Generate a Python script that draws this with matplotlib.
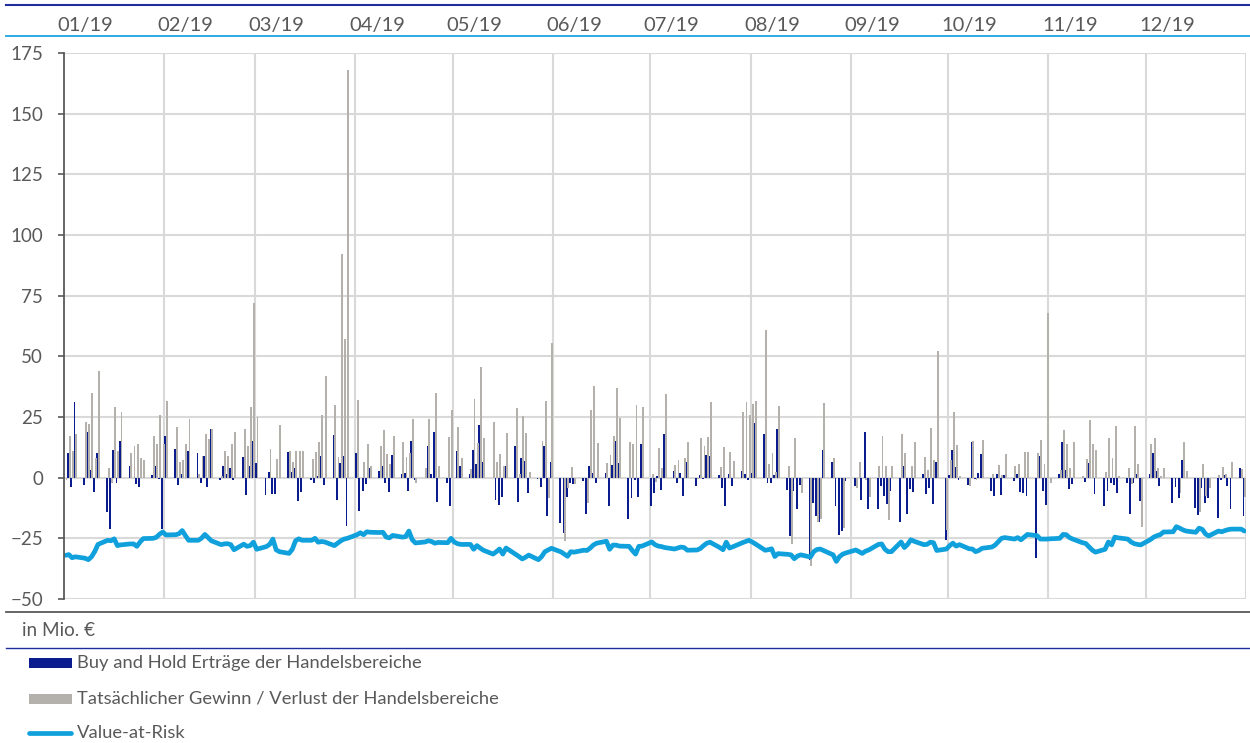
import matplotlib
matplotlib.use("Agg")
import matplotlib.pyplot as plt
import matplotlib.dates as mdates
import matplotlib.transforms as mtransforms
from matplotlib.patches import Rectangle
from matplotlib.lines import Line2D
import pandas as pd

plt.rcParams['font.family'] = ['Lato', 'DejaVu Sans']

# ---------------- data ----------------
month_labels = ['01/19', '02/19', '03/19', '04/19', '05/19', '06/19',
                '07/19', '08/19', '09/19', '10/19', '11/19', '12/19']
series_labels = ['Buy and Hold Erträge der Handelsbereiche',
                 'Tatsächlicher Gewinn / Verlust der Handelsbereiche',
                 'Value-at-Risk']
unit_label = 'in Mio. €'
y_ticks = [-50, -25, 0, 25, 50, 75, 100, 125, 150, 175]

# one value per weekday of 2019 (Jan ... Dec)
buy_hold = [
    0, 10, -4, 31, -3, 19, 3, -6, 10, -14, -21, 11.5, -2, 15, 5, 0, -2.7, -3.7, 0, 1, 5, -0.5, -21,
    17, 12, -3, 1.6, 0, 11, 10, -2, 9, -4, 20, -1, 5, 1.6, 4, -1, 8.5, -7, 4.7, 15,
    6, -7, 2.5, -6.6, -6.6, 0, 10.7, 2.2, 3.8, -9.6, -6, -1.1, -2, 0.5, 9, -3, 17.7, -9.3, 6, 8.8, -19.8,
    10, -13.7, -5.5, -2.5, 3.8, 2.7, 4.7, -2, -6, 9.2, 1.6, 2, -5.5, 15, -1, 0, 13.2, 1.6, 18.8, -10, -2, -11.8,
    0, 11, 4.7, 1.4, 11.5, 5.8, 21.8, 6.6, 0, -9, -11.3, -8, 4.7, 13.2, -10, 8.2, 6.7, -6.3, -0.5, -3.8, 13.2, -15.7, 6.5,
    -18.7, -22.8, -8, -2, -2.5, -1.4, -14.8, 5, 2, -2.2, 2, -11.8, 5.2, 15.2, 6, -17, -8.2, -1.1, -8, 13.9,
    -11.5, -6.3, 0.8, -5, 18.1, 2.7, -2.2, 2, -7.7, 6.6, -3.3, 1.1, -0.5, 9.5, 8.8, 1.1, -4.4, -11.8, 1.4, -3.3, 2.7, 1.6, -0.8,
    2, 22.5, 18.1, -2, -2, 1.1, 20, -5.2, -24.2, -5.5, -13, -3, -33.8, -10.4, -16, -18.4, 11.5, 6.6, -11.5, -23.6, -22, -1.4,
    -3.6, 0, -9.3, 19, -13, -13, -3.3, -7.7, -10.7, -5.5, -18.4, 4.7, -15.1, -4.7, -5.8, 1.6, -6.9, -4.4, -10.7, 6.6, -25.6,
    1.1, 11.5, 4.4, -0.8, -3, 14.6, -0.5, 2, 9.6, -5.5, -7.4, 1.6, -7.1, 1.1, -1.4, 1.6, -6, -6.3, -7.4, -33, 8.8, -5.5, -11.3,
    0, 1.6, 14.8, 3.3, -4.7, -2.7, 0, -1.6, 6, 0, -6.9, -11.8, -5.5, -2.2, -3, -6.3, -2.2, -14.8, -2.2, 1.4, -9.6,
    1.6, 10, 2.7, -3.6, 0, -10.4, -3.8, -8.2, 7.4, 0, -12.6, -15.4, -4.4, -10.4, -8.5, -16.8, -0.8, 1.1, -3.6, -13, 4.1, -15.7,
]

actual_pl = [
    -1, 17, 11, 18, 23, 22, 35, 8, 44, 4, -2, 29, 11, 27, 10, 13, 14, 8, 7.4, 17, 14, 26, 14,
    31.5, 21, 6.6, 7.4, 14, 24, 1.6, 9, 18, 16, 20, 0.5, 11, 9, 14, 19, 20, 13, 29, 72,
    25, 0, 11.8, 0, 7.8, 21.7, 10.9, 6.6, 10.9, 10.9, 11.1, 7.8, 10.7, 14.7, 26, 42, 30, 8.5, 92, 57, 168,
    32, 0, 6.3, 14, 5, 13.2, 19.8, 9.6, 5.5, 17, 14.7, 8.5, 10, 24, -2, 4, 24, 0, 35, 4.7, 16.8, 27.7,
    0, 21, 8.2, 3.6, 32.6, 14.3, 45.7, 16.5, 23, 6.6, 9.6, 4.7, 18.4, 28.8, 1.6, 25.3, 18.4, 2.5, 0, 15.1, 31.7, -8.5, 55.5,
    0, -26, -4.4, 4.4, -2.7, 0, -10.4, 28, 37.6, 14.3, 6, 9.3, 17.3, 36.8, 24.6, 14.8, 14, 30, 0, 29.3,
    1.5, -1.6, 12.4, 4.1, 34.6, 5.2, 7.4, 0, 8.2, 14.7, -0.5, 16.5, 13.2, 16.8, 31.3, 4.4, 12.6, 0, 10.7, 6.9, 27, 31.3, 25.8,
    30.5, 31.6, 61, 5.6, 10, 2.5, 29.7, 4.7, -27.2, 16.5, 0, -6.3, -36.5, -1, -18.4, -17, 30.8, 8, 0, 0, -20.6, 0,
    -4.4, 6.6, 0, -1, -8, 5, 17, 5, -17.6, 4.7, 18, 10.2, 0, 5, 14.7, 8.5, 3, 20.5, 7.4, 52, -21.5,
    7.1, 27, 13.6, 0.5, -3.6, 15.1, -0.8, 0, 15.7, 1.6, -0.5, 5.2, 1, 9.6, 4.7, 5.8, 0, 10.4, 10.4, 10, 15.7, 5.8, 68,
    -2, 3, 19.8, 14, 4.1, 14.8, 0.5, 7.7, 23.6, 13.8, 11.5, 2.2, 16.2, 8.2, 21.3, 0.8, 4.1, -2.5, 21.4, 5.8, -20.3,
    13.7, 16.5, 4.1, 0.5, 4.1, 0, 0, -6.3, 14.8, 2.7, 0, -14, 5.8, -7.7, -4.4, 1.1, 4.4, 1.6, 0, 6.6, 3.6, -8,
]

value_at_risk = [
    -32, -31.7, -33, -32.6, -33.2, -33.8, -32.6, -30.4, -27.5, -25.8, -26, -25.2, -28, -27.7, -27.3, -27.3, -28.3, -26.5, -25.1, -25, -24.6, -23.3, -22.4,
    -23.6, -23.5, -23.1, -21.8, -23.9, -25.8, -25.8, -24.9, -23.4, -24.7, -26, -27.6, -27.3, -27.2, -27.6, -29.7, -27.4, -28.3, -28, -26.6,
    -29.5, -28.4, -27.5, -25.3, -29.7, -30.5, -31.2, -29.5, -26, -25.2, -25.8, -25.8, -25, -26.6, -26.3, -26.5, -28, -27, -26, -25.3, -25,
    -23.5, -22.7, -23.5, -22.3, -22.5, -22.6, -22.5, -24.5, -24.8, -23.8, -24.5, -24.3, -22, -25.5, -26.9, -26.5, -26, -26.3, -27, -26.7, -26.8, -25,
    -26.5, -27.2, -27.5, -27.5, -29.5, -28, -29, -29.9, -31.5, -30.5, -29.4, -31.5, -29, -31.6, -32.5, -33.5, -32.8, -31.9, -33.8, -32.5, -30.5, -29.8, -29.1,
    -30.6, -31.5, -32.4, -30.5, -30.7, -29.9, -30, -29, -27.7, -27, -26.2, -29.5, -27.8, -27.8, -28.2, -28.3, -30, -31.5, -28.3, -28.2,
    -26.5, -27.6, -28.2, -28.4, -28.8, -29.4, -29, -28.6, -28.8, -29.9, -29.8, -29.2, -28, -27, -26.6, -28.8, -29.7, -26.6, -29, -28.5, -26.8, -26.3, -25.8,
    -26.5, -27.3, -29.9, -29.7, -29.3, -32.5, -31.3, -31.6, -31.8, -33.4, -32.3, -31.8, -32.7, -30.5, -29.6, -29.4, -30, -31.8, -34.5, -32.5, -31.5, -31,
    -29.8, -30.5, -31.2, -30.3, -29.8, -27.5, -27.3, -29.5, -30.5, -30.5, -26.5, -28.8, -27.5, -25.6, -26.2, -27.6, -27.5, -26.6, -26.8, -30, -29.4,
    -28, -27, -28.2, -27.6, -29.3, -29.4, -30.5, -30, -29.1, -28.6, -27.8, -26.4, -25, -24.7, -25.3, -24.7, -25.6, -24.5, -23.4, -23.9, -25.3, -25.3, -25.3,
    -25.2, -25, -23.4, -23.5, -24.7, -25.3, -26.8, -27.1, -28.5, -29.8, -30.7, -29.5, -26.5, -27.7, -24.5, -24.8, -25.3, -26.5, -27.2, -27.5, -27.7,
    -25.5, -24.5, -23.9, -23.5, -22.4, -22.3, -20.2, -20.8, -21.5, -22, -22.5, -20.8, -21.3, -23.2, -24, -22, -22.3, -21.8, -21.4, -21.2, -21.2, -22,
]

# ---------------- styling ----------------
BLUE = '#0B1D8E'
GRAY = '#B4B0AB'
CYAN = '#10A0DC'
GRID = '#D9D9D9'
TEXT = '#595959'
DARKBLUE = '#1F2E9E'
LIGHTBLUE = '#1FA2DF'

W, H = 1250, 743
fig = plt.figure(figsize=(W / 100, H / 100), dpi=100)

dates = pd.bdate_range('2019-01-01', '2019-12-31')
x = mdates.date2num(dates) + 0.5

ax = fig.add_axes([64 / W, 1 - 599 / H, (1246 - 64) / W, (599 - 53) / H])
ax.bar(x - 0.27, buy_hold, width=0.58, color=BLUE, linewidth=0, zorder=3)
ax.bar(x + 0.27, actual_pl, width=0.58, color=GRAY, linewidth=0, zorder=3)
ax.plot(x, value_at_risk, color=CYAN, lw=3.4, zorder=4,
        solid_joinstyle='round', solid_capstyle='round')

x0 = mdates.date2num(pd.Timestamp('2019-01-01'))
x1 = mdates.date2num(pd.Timestamp('2020-01-01'))
ax.set_xlim(x0, x1)
ax.set_ylim(-50, 175)
ax.set_yticks(y_ticks)
ax.set_xticks([])

month_starts = pd.date_range('2019-01-01', '2020-01-01', freq='MS')
for ms in month_starts[1:]:
    ax.axvline(mdates.date2num(ms), color=GRID, lw=1.5, zorder=1)
ax.yaxis.grid(True, color=GRID, lw=1.5, zorder=1)
ax.set_axisbelow(True)

for side in ['top', 'right', 'bottom']:
    ax.spines[side].set_visible(False)
ax.spines['left'].set_color(TEXT)
ax.spines['left'].set_linewidth(1.3)
ax.spines['left'].set_zorder(5)
ax.tick_params(axis='y', colors=TEXT, labelcolor=TEXT, labelsize=13.5,
               length=4, width=1.2, pad=11)

# month labels along the top
blend = mtransforms.blended_transform_factory(ax.transData, fig.transFigure)
for lbl, ms in zip(month_labels, month_starts[:-1]):
    ax.text(mdates.date2num(ms) + 6.6, 1 - 25 / H, lbl, transform=blend,
            ha='center', va='center', fontsize=14.5, color=TEXT, clip_on=False)

# horizontal rules
fig.add_artist(Line2D([6 / W, 1], [1 - 5 / H] * 2, color=DARKBLUE, lw=1.5))
fig.add_artist(Line2D([6 / W, 1], [1 - 36 / H] * 2, color=LIGHTBLUE, lw=1.3))
fig.add_artist(Line2D([6 / W, 1], [1 - 612 / H] * 2, color=TEXT, lw=1.3))
fig.add_artist(Line2D([6 / W, 1], [1 - 648 / H] * 2, color=DARKBLUE, lw=1.0))

fig.text(22 / W, 1 - 630 / H, unit_label, ha='left', va='center',
         fontsize=13.6, color=TEXT)

# legend (manual)
fig.add_artist(Rectangle((29 / W, 1 - 668 / H), 43 / W, 10 / H,
                         transform=fig.transFigure, color=BLUE, lw=0))
fig.add_artist(Rectangle((29 / W, 1 - 704 / H), 43 / W, 10 / H,
                         transform=fig.transFigure, color=GRAY, lw=0))
fig.add_artist(Line2D([29 / W, 71 / W], [1 - 733 / H] * 2, color=CYAN, lw=3.4,
                      solid_capstyle='round'))
for lbl, yy in zip(series_labels, [663, 698, 733]):
    fig.text(77 / W, 1 - yy / H, lbl, ha='left', va='center',
             fontsize=13.2, color=TEXT)

fig.savefig('out.png', dpi=100)
